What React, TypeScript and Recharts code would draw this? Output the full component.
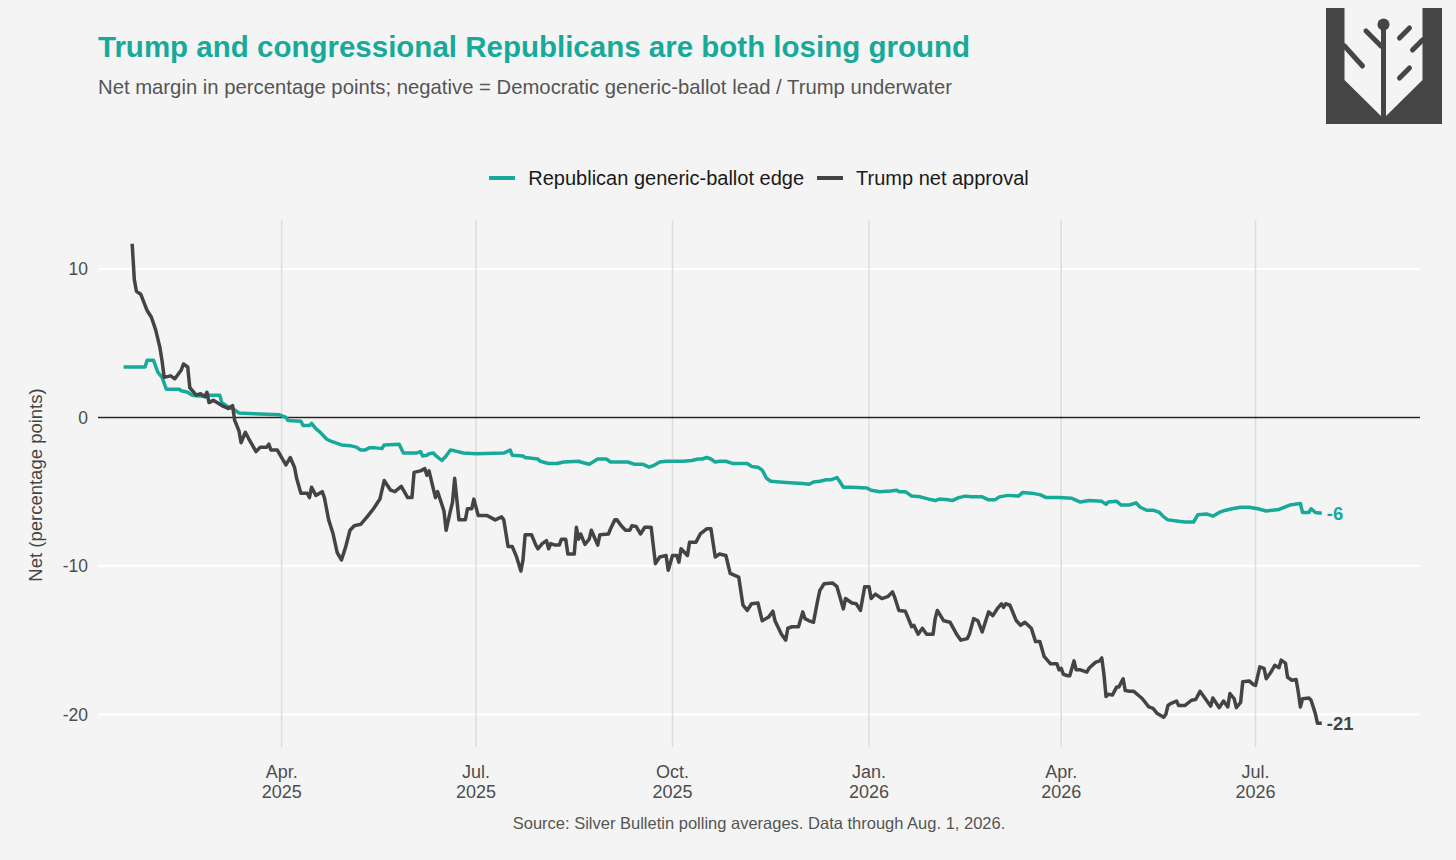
import {
  CartesianGrid,
  Line,
  LineChart,
  ReferenceDot,
  ReferenceLine,
  XAxis,
  YAxis,
} from "recharts";

const TEAL = "#17a99a";
const DARK = "#444444";
const FONT = "Helvetica, 'Liberation Sans', Arial, sans-serif";

// Republican generic-ballot edge (points)
const genericBallot: [string, number][] = [
  ["2025-01-17", 3.4], ["2025-01-27", 3.4], ["2025-01-28", 3.85], ["2025-01-31", 3.85],
  ["2025-02-02", 3.05], ["2025-02-04", 2.7], ["2025-02-06", 1.9], ["2025-02-12", 1.9],
  ["2025-02-13", 1.8], ["2025-02-16", 1.7], ["2025-02-18", 1.5], ["2025-02-25", 1.4],
  ["2025-02-26", 1.5], ["2025-03-03", 1.5], ["2025-03-04", 1.0], ["2025-03-07", 0.7],
  ["2025-03-09", 0.6], ["2025-03-12", 0.3], ["2025-03-19", 0.25], ["2025-03-31", 0.18],
  ["2025-04-03", 0.0], ["2025-04-04", -0.2], ["2025-04-10", -0.25], ["2025-04-11", -0.55],
  ["2025-04-14", -0.55], ["2025-04-15", -0.4], ["2025-04-17", -0.75], ["2025-04-19", -1.0],
  ["2025-04-22", -1.45], ["2025-04-24", -1.6], ["2025-04-27", -1.75], ["2025-04-29", -1.85],
  ["2025-05-03", -1.9], ["2025-05-06", -2.0], ["2025-05-08", -2.2], ["2025-05-10", -2.2],
  ["2025-05-12", -2.05], ["2025-05-15", -2.05], ["2025-05-18", -2.1], ["2025-05-19", -1.85],
  ["2025-05-26", -1.8], ["2025-05-28", -2.4], ["2025-06-03", -2.4], ["2025-06-05", -2.3],
  ["2025-06-06", -2.6], ["2025-06-08", -2.55], ["2025-06-09", -2.45], ["2025-06-11", -2.4],
  ["2025-06-12", -2.55], ["2025-06-15", -2.9], ["2025-06-17", -2.6], ["2025-06-19", -2.2],
  ["2025-06-21", -2.25], ["2025-06-25", -2.4], ["2025-07-01", -2.45], ["2025-07-14", -2.4],
  ["2025-07-17", -2.2], ["2025-07-18", -2.55], ["2025-07-23", -2.6], ["2025-07-24", -2.7],
  ["2025-07-30", -2.8], ["2025-07-31", -2.95], ["2025-08-04", -3.1], ["2025-08-08", -3.1],
  ["2025-08-11", -3.0], ["2025-08-18", -2.95], ["2025-08-19", -3.0], ["2025-08-23", -3.15],
  ["2025-08-27", -2.8], ["2025-08-31", -2.8], ["2025-09-02", -3.0], ["2025-09-10", -3.0],
  ["2025-09-13", -3.15], ["2025-09-17", -3.15], ["2025-09-20", -3.35], ["2025-09-22", -3.25],
  ["2025-09-25", -3.0], ["2025-09-28", -2.95], ["2025-10-06", -2.95], ["2025-10-10", -2.9],
  ["2025-10-13", -2.8], ["2025-10-15", -2.8], ["2025-10-17", -2.7], ["2025-10-19", -2.8],
  ["2025-10-21", -3.0], ["2025-10-23", -2.95], ["2025-10-26", -2.95], ["2025-10-29", -3.1],
  ["2025-11-05", -3.1], ["2025-11-07", -3.3], ["2025-11-10", -3.35], ["2025-11-12", -3.55],
  ["2025-11-14", -4.1], ["2025-11-16", -4.3], ["2025-11-20", -4.35], ["2025-11-25", -4.4],
  ["2025-12-01", -4.45], ["2025-12-04", -4.5], ["2025-12-06", -4.35], ["2025-12-09", -4.3],
  ["2025-12-12", -4.2], ["2025-12-14", -4.2], ["2025-12-17", -4.05], ["2025-12-18", -4.25],
  ["2025-12-20", -4.7], ["2025-12-24", -4.7], ["2025-12-31", -4.75], ["2026-01-02", -4.9],
  ["2026-01-06", -5.0], ["2026-01-11", -4.95], ["2026-01-14", -4.9], ["2026-01-15", -5.0],
  ["2026-01-18", -5.0], ["2026-01-21", -5.3], ["2026-01-25", -5.35], ["2026-01-29", -5.5],
  ["2026-02-01", -5.6], ["2026-02-03", -5.5], ["2026-02-07", -5.55], ["2026-02-09", -5.6],
  ["2026-02-12", -5.4], ["2026-02-15", -5.3], ["2026-02-18", -5.35], ["2026-02-23", -5.35],
  ["2026-02-26", -5.55], ["2026-03-01", -5.55], ["2026-03-03", -5.35], ["2026-03-07", -5.25],
  ["2026-03-12", -5.3], ["2026-03-14", -5.05], ["2026-03-18", -5.1], ["2026-03-22", -5.2],
  ["2026-03-25", -5.4], ["2026-03-31", -5.4], ["2026-04-06", -5.45], ["2026-04-10", -5.7],
  ["2026-04-14", -5.6], ["2026-04-20", -5.65], ["2026-04-22", -5.85], ["2026-04-23", -5.7],
  ["2026-04-27", -5.65], ["2026-04-29", -5.9], ["2026-05-03", -5.9], ["2026-05-06", -5.75],
  ["2026-05-08", -6.05], ["2026-05-11", -6.25], ["2026-05-14", -6.25], ["2026-05-17", -6.4],
  ["2026-05-19", -6.7], ["2026-05-21", -6.9], ["2026-05-26", -7.0], ["2026-05-29", -7.05],
  ["2026-06-02", -7.05], ["2026-06-04", -6.55], ["2026-06-08", -6.5], ["2026-06-11", -6.65],
  ["2026-06-14", -6.4], ["2026-06-17", -6.25], ["2026-06-20", -6.15], ["2026-06-24", -6.05],
  ["2026-06-28", -6.05], ["2026-07-02", -6.15], ["2026-07-06", -6.3], ["2026-07-12", -6.2],
  ["2026-07-17", -5.9], ["2026-07-22", -5.8], ["2026-07-23", -6.4], ["2026-07-26", -6.4],
  ["2026-07-27", -6.15], ["2026-07-29", -6.4], ["2026-08-01", -6.45],
];

// Trump net approval (points)
const trumpNet: [string, number][] = [
  ["2025-01-21", 11.7], ["2025-01-22", 9.3], ["2025-01-23", 8.5], ["2025-01-25", 8.3],
  ["2025-01-28", 7.2], ["2025-01-30", 6.75], ["2025-02-01", 5.9], ["2025-02-03", 4.7],
  ["2025-02-04", 3.8], ["2025-02-05", 2.7], ["2025-02-08", 2.8], ["2025-02-10", 2.6],
  ["2025-02-13", 3.2], ["2025-02-14", 3.6], ["2025-02-16", 3.4], ["2025-02-17", 2.0],
  ["2025-02-20", 1.5], ["2025-02-22", 1.6], ["2025-02-24", 1.4], ["2025-02-25", 1.7],
  ["2025-02-26", 1.0], ["2025-02-28", 1.15], ["2025-03-04", 0.8], ["2025-03-07", 0.6],
  ["2025-03-09", 0.8], ["2025-03-10", -0.2], ["2025-03-12", -0.9], ["2025-03-13", -1.7],
  ["2025-03-15", -1.0], ["2025-03-17", -1.55], ["2025-03-20", -2.3], ["2025-03-22", -2.0],
  ["2025-03-25", -2.0], ["2025-03-26", -1.8], ["2025-03-27", -2.2], ["2025-03-30", -2.2],
  ["2025-04-01", -2.7], ["2025-04-03", -3.2], ["2025-04-05", -2.7], ["2025-04-07", -3.35],
  ["2025-04-08", -4.1], ["2025-04-10", -5.1], ["2025-04-13", -5.1], ["2025-04-14", -5.4],
  ["2025-04-15", -4.7], ["2025-04-17", -5.25], ["2025-04-20", -5.0], ["2025-04-21", -5.4],
  ["2025-04-23", -6.9], ["2025-04-25", -7.8], ["2025-04-27", -9.1], ["2025-04-29", -9.6],
  ["2025-05-01", -8.7], ["2025-05-03", -7.6], ["2025-05-05", -7.3], ["2025-05-08", -7.2],
  ["2025-05-11", -6.7], ["2025-05-14", -6.15], ["2025-05-17", -5.5], ["2025-05-19", -4.25],
  ["2025-05-22", -4.9], ["2025-05-24", -5.0], ["2025-05-27", -4.65], ["2025-05-30", -5.4],
  ["2025-06-01", -5.4], ["2025-06-02", -3.7], ["2025-06-05", -3.6], ["2025-06-07", -3.45],
  ["2025-06-08", -3.9], ["2025-06-09", -3.6], ["2025-06-12", -5.4], ["2025-06-13", -5.0],
  ["2025-06-16", -6.3], ["2025-06-17", -7.6], ["2025-06-19", -6.3], ["2025-06-20", -5.7],
  ["2025-06-21", -4.1], ["2025-06-23", -6.9], ["2025-06-26", -6.9], ["2025-06-27", -6.15],
  ["2025-06-29", -6.15], ["2025-06-30", -5.5], ["2025-07-02", -6.6], ["2025-07-06", -6.6],
  ["2025-07-10", -6.9], ["2025-07-13", -6.7], ["2025-07-14", -6.9], ["2025-07-16", -8.7],
  ["2025-07-18", -8.7], ["2025-07-20", -9.4], ["2025-07-22", -10.35], ["2025-07-23", -9.6],
  ["2025-07-24", -7.9], ["2025-07-27", -7.9], ["2025-07-29", -8.6], ["2025-07-30", -8.85],
  ["2025-08-01", -8.5], ["2025-08-03", -8.3], ["2025-08-04", -8.85], ["2025-08-05", -8.5],
  ["2025-08-07", -8.6], ["2025-08-09", -8.6], ["2025-08-10", -8.2], ["2025-08-12", -8.2],
  ["2025-08-13", -9.2], ["2025-08-16", -9.2], ["2025-08-17", -7.4], ["2025-08-18", -8.2],
  ["2025-08-19", -7.85], ["2025-08-21", -8.55], ["2025-08-23", -8.2], ["2025-08-24", -7.6],
  ["2025-08-27", -8.6], ["2025-08-28", -7.9], ["2025-09-01", -7.85], ["2025-09-02", -7.5],
  ["2025-09-04", -6.9], ["2025-09-05", -6.9], ["2025-09-07", -7.3], ["2025-09-09", -7.6],
  ["2025-09-11", -7.6], ["2025-09-12", -7.3], ["2025-09-14", -7.35], ["2025-09-16", -7.85],
  ["2025-09-18", -7.4], ["2025-09-21", -7.4], ["2025-09-23", -9.85], ["2025-09-25", -9.4],
  ["2025-09-28", -9.3], ["2025-09-29", -10.3], ["2025-10-01", -9.3], ["2025-10-03", -9.3],
  ["2025-10-04", -9.75], ["2025-10-05", -8.85], ["2025-10-08", -9.3], ["2025-10-09", -8.4],
  ["2025-10-12", -8.4], ["2025-10-14", -7.85], ["2025-10-17", -7.5], ["2025-10-19", -7.5],
  ["2025-10-21", -9.4], ["2025-10-23", -9.2], ["2025-10-26", -9.3], ["2025-10-28", -10.5],
  ["2025-11-01", -10.75], ["2025-11-03", -12.65], ["2025-11-05", -13.0], ["2025-11-07", -12.55],
  ["2025-11-10", -12.5], ["2025-11-12", -13.7], ["2025-11-15", -13.45], ["2025-11-17", -13.05],
  ["2025-11-18", -13.7], ["2025-11-21", -14.6], ["2025-11-23", -15.0], ["2025-11-24", -14.2],
  ["2025-11-26", -14.1], ["2025-11-29", -14.1], ["2025-12-01", -13.1], ["2025-12-02", -13.55],
  ["2025-12-04", -13.7], ["2025-12-06", -13.8], ["2025-12-08", -12.3], ["2025-12-09", -11.65],
  ["2025-12-11", -11.2], ["2025-12-15", -11.15], ["2025-12-17", -11.4], ["2025-12-18", -11.9],
  ["2025-12-20", -12.9], ["2025-12-21", -12.2], ["2025-12-24", -12.5], ["2025-12-26", -12.55],
  ["2025-12-28", -13.0], ["2025-12-30", -11.4], ["2026-01-01", -11.4], ["2026-01-02", -12.2],
  ["2026-01-04", -11.9], ["2026-01-07", -12.2], ["2026-01-10", -12.05], ["2026-01-12", -11.75],
  ["2026-01-13", -12.1], ["2026-01-15", -13.0], ["2026-01-18", -13.05], ["2026-01-21", -14.1],
  ["2026-01-22", -14.0], ["2026-01-24", -14.6], ["2026-01-26", -14.2], ["2026-01-28", -14.6],
  ["2026-01-31", -14.6], ["2026-02-01", -13.55], ["2026-02-02", -13.0], ["2026-02-05", -13.7],
  ["2026-02-08", -13.8], ["2026-02-11", -14.6], ["2026-02-13", -15.0], ["2026-02-16", -14.9],
  ["2026-02-17", -14.6], ["2026-02-19", -13.55], ["2026-02-21", -13.7], ["2026-02-23", -14.45],
  ["2026-02-24", -14.0], ["2026-02-26", -13.1], ["2026-02-28", -13.35], ["2026-03-02", -12.9],
  ["2026-03-04", -12.55], ["2026-03-05", -12.8], ["2026-03-06", -12.55], ["2026-03-08", -12.65],
  ["2026-03-11", -13.7], ["2026-03-13", -14.0], ["2026-03-15", -13.8], ["2026-03-18", -14.2],
  ["2026-03-20", -15.1], ["2026-03-22", -15.1], ["2026-03-24", -16.1], ["2026-03-27", -16.6],
  ["2026-03-30", -16.6], ["2026-03-31", -17.0], ["2026-04-01", -16.9], ["2026-04-02", -17.3],
  ["2026-04-04", -17.4], ["2026-04-05", -17.4], ["2026-04-07", -16.4], ["2026-04-08", -17.0],
  ["2026-04-10", -17.0], ["2026-04-13", -17.15], ["2026-04-14", -16.9], ["2026-04-17", -16.5],
  ["2026-04-19", -16.4], ["2026-04-20", -16.2], ["2026-04-21", -17.3], ["2026-04-22", -18.8],
  ["2026-04-23", -18.65], ["2026-04-25", -18.7], ["2026-04-27", -18.15], ["2026-04-28", -18.15],
  ["2026-04-30", -17.6], ["2026-05-01", -18.4], ["2026-05-03", -18.45], ["2026-05-05", -18.45],
  ["2026-05-07", -18.7], ["2026-05-09", -18.95], ["2026-05-12", -19.5], ["2026-05-14", -19.6],
  ["2026-05-16", -19.95], ["2026-05-19", -20.2], ["2026-05-20", -20.0], ["2026-05-21", -19.4],
  ["2026-05-22", -19.3], ["2026-05-25", -19.1], ["2026-05-26", -19.4], ["2026-05-29", -19.4],
  ["2026-06-01", -19.05], ["2026-06-03", -19.0], ["2026-06-05", -18.45], ["2026-06-08", -19.05],
  ["2026-06-10", -19.45], ["2026-06-11", -18.9], ["2026-06-14", -19.55], ["2026-06-16", -19.1],
  ["2026-06-18", -19.5], ["2026-06-19", -18.6], ["2026-06-21", -18.95], ["2026-06-22", -19.55],
  ["2026-06-24", -19.2], ["2026-06-25", -17.8], ["2026-06-28", -17.75], ["2026-06-30", -18.0],
  ["2026-07-01", -18.05], ["2026-07-03", -16.8], ["2026-07-05", -16.9], ["2026-07-06", -17.6],
  ["2026-07-08", -17.2], ["2026-07-10", -16.7], ["2026-07-12", -16.85], ["2026-07-13", -16.35],
  ["2026-07-15", -16.55], ["2026-07-16", -17.5], ["2026-07-18", -17.7], ["2026-07-20", -17.65],
  ["2026-07-21", -18.5], ["2026-07-22", -19.5], ["2026-07-23", -18.95], ["2026-07-26", -18.9],
  ["2026-07-27", -19.05], ["2026-07-29", -19.95], ["2026-07-30", -20.6], ["2026-08-01", -20.6],
];

const xTickDates = ["2025-04-01", "2025-07-01", "2025-10-01", "2026-01-01", "2026-04-01", "2026-07-01"];
const xTickMonths = ["Apr.", "Jul.", "Oct.", "Jan.", "Apr.", "Jul."];
const xTickYears = ["2025", "2025", "2025", "2026", "2026", "2026"];
const xDomainDates = ["2025-01-05", "2026-09-16"];
const yTicks = [-20, -10, 0, 10];
const yDomain: [number, number] = [-22.2, 13.3];

const series = [
  { key: "gop", name: "Republican generic-ballot edge", color: TEAL, rows: genericBallot },
  { key: "trump", name: "Trump net approval", color: DARK, rows: trumpNet },
];

const toPoints = (rows: [string, number][]) => rows.map(([d, v]) => ({ t: Date.parse(d), v }));

const xTicks = xTickDates.map((d) => Date.parse(d));
const xDomain = xDomainDates.map((d) => Date.parse(d));

function DateTick({ x, y, payload }: { x?: number; y?: number; payload?: { value: number } }) {
  const i = xTicks.indexOf(payload?.value ?? -1);
  if (i < 0) return null;
  return (
    <text x={x} y={y} textAnchor="middle" fill="#4d4d4d" fontSize={18} fontFamily={FONT}>
      <tspan x={x} dy={28.5}>{xTickMonths[i]}</tspan>
      <tspan x={x} dy={20}>{xTickYears[i]}</tspan>
    </text>
  );
}

function Logo() {
  const c = "#454545";
  return (
    <svg width={116} height={116} viewBox="0 0 116 116" style={{ position: "absolute", left: 1326, top: 8 }}>
      <rect width={116} height={116} fill={c} />
      <polygon points="18.5,0 18.5,72 57.5,110.5 96.5,72 96.5,0" fill="#f4f4f4" />
      <g stroke={c} strokeWidth={5} strokeLinecap="round">
        <line x1={57.5} y1={17} x2={57.5} y2={116} />
        <line x1={40} y1={23} x2={55} y2={38} />
        <line x1={18.5} y1={38} x2={36.5} y2={58} />
        <line x1={73.5} y1={30} x2={83.5} y2={20} />
        <line x1={96.5} y1={32} x2={86.5} y2={42} />
        <line x1={73.5} y1={70} x2={83.5} y2={60} />
      </g>
      <circle cx={57.5} cy={16.5} r={6} fill={c} />
    </svg>
  );
}

export default function App() {
  return (
    <div
      style={{
        position: "fixed",
        left: 0,
        top: 0,
        width: 1456,
        height: 860,
        background: "#f4f4f4",
        fontFamily: FONT,
        overflow: "hidden",
      }}
    >
      <LineChart width={1456} height={860} margin={{ top: 220, right: 36, bottom: 53, left: 38 }}>
        {/* syncWithTicks keeps the grid off the plot edges */}
        <CartesianGrid vertical={false} stroke="#ffffff" strokeWidth={2.2} syncWithTicks />
        <CartesianGrid horizontal={false} stroke="#dddddd" strokeWidth={1.5} syncWithTicks />
        <XAxis
          dataKey="t"
          type="number"
          scale="linear"
          domain={xDomain}
          ticks={xTicks}
          allowDataOverflow
          axisLine={false}
          tickLine={false}
          tickSize={0}
          height={60}
          tick={<DateTick />}
        />
        <YAxis
          type="number"
          domain={yDomain}
          ticks={yTicks}
          allowDataOverflow
          axisLine={false}
          tickLine={false}
          tickSize={6}
          tickMargin={4}
          width={60}
          tick={{ fill: "#4d4d4d", fontSize: 17.5, fontFamily: FONT }}
        />
        <ReferenceLine y={0} stroke="#222222" strokeWidth={1.5} />
        {series.map((s) => (
          <Line
            key={s.key}
            data={toPoints(s.rows)}
            dataKey="v"
            name={s.name}
            type="linear"
            stroke={s.color}
            strokeWidth={3.5}
            strokeLinejoin="round"
            dot={false}
            isAnimationActive={false}
          />
        ))}
        {series.map((s) => {
          const [d, v] = s.rows[s.rows.length - 1];
          return (
            <ReferenceDot
              key={s.key + "-end"}
              x={Date.parse(d)}
              y={v}
              r={0}
              fill="none"
              stroke="none"
              label={{
                value: String(Math.round(v)),
                position: "right",
                offset: 5,
                fill: s.color,
                fontSize: 18.5,
                fontWeight: 700,
                fontFamily: FONT,
              }}
            />
          );
        })}
      </LineChart>

      <svg width={1456} height={860} style={{ position: "absolute", left: 0, top: 0, pointerEvents: "none" }}>
        <text x={98} y={57} fill={TEAL} fontSize={29.5} fontWeight={700} fontFamily={FONT}>
          Trump and congressional Republicans are both losing ground
        </text>
        <text x={98} y={94} fill="#555555" fontSize={20.3} fontFamily={FONT}>
          Net margin in percentage points; negative = Democratic generic-ballot lead / Trump underwater
        </text>
        <text
          x={41.5}
          y={485}
          transform="rotate(-90 41.5 485)"
          textAnchor="middle"
          fill="#444444"
          fontSize={18.5}
          fontFamily={FONT}
        >
          Net (percentage points)
        </text>
        <text x={759} y={829} textAnchor="middle" fill="#555555" fontSize={16.5} fontFamily={FONT}>
          Source: Silver Bulletin polling averages. Data through Aug. 1, 2026.
        </text>
      </svg>

      <div
        style={{
          position: "absolute",
          left: 98,
          width: 1322,
          top: 165,
          height: 26,
          display: "flex",
          justifyContent: "center",
          alignItems: "center",
          gap: 13,
          fontSize: 20,
          color: "#1a1a1a",
        }}
      >
        {series.map((s) => (
          <div key={s.key} style={{ display: "flex", alignItems: "center", gap: 13 }}>
            <span style={{ display: "inline-block", width: 26, height: 3.5, background: s.color }} />
            <span>{s.name}</span>
          </div>
        ))}
      </div>

      <Logo />
    </div>
  );
}
